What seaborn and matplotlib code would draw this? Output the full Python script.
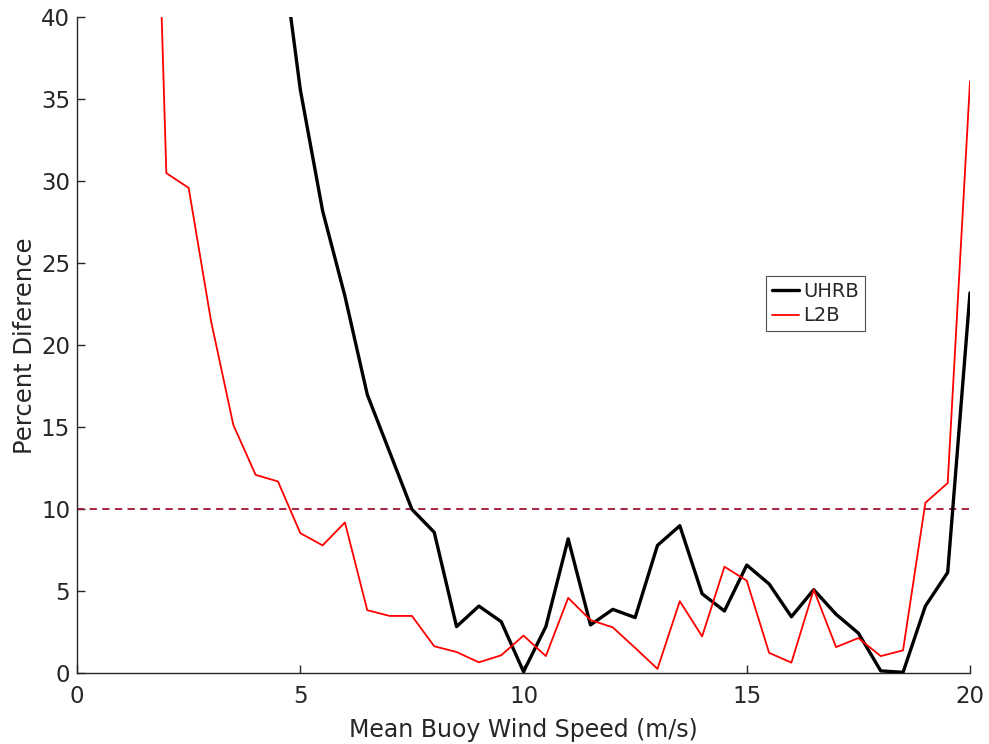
import matplotlib
matplotlib.use("Agg")
import matplotlib.pyplot as plt
import seaborn as sns
import pandas as pd
import numpy as np
from matplotlib.lines import Line2D

# Data
wind_speed = [1.5, 2.0, 2.5, 3.0, 3.5, 4.0, 4.5, 5.0, 5.5, 6.0, 6.5, 7.0, 7.5, 8.0, 8.5,
              9.0, 9.5, 10.0, 10.5, 11.0, 11.5, 12.0, 12.5, 13.0, 13.5, 14.0, 14.5,
              15.0, 15.5, 16.0, 16.5, 17.0, 17.5, 18.0, 18.5, 19.0, 19.5, 20.0]
uhrb = [np.nan, np.nan, np.nan, np.nan, np.nan, np.nan, 46.0, 35.6, 28.2, 23.0, 17.0, 13.5, 10.0, 8.6, 2.85,
        4.1, 3.15, 0.1, 2.85, 8.2, 2.95, 3.9, 3.4, 7.8, 9.0, 4.85, 3.8,
        6.6, 5.45, 3.45, 5.1, 3.6, 2.45, 0.15, 0.06, 4.1, 6.15, 23.2]
l2b = [76.0, 30.5, 29.6, 21.5, 15.15, 12.1, 11.7, 8.55, 7.8, 9.2, 3.85, 3.5, 3.5, 1.65, 1.3,
       0.67, 1.1, 2.3, 1.05, 4.6, 3.25, 2.8, 1.55, 0.27, 4.4, 2.25, 6.5,
       5.65, 1.25, 0.65, 5.1, 1.6, 2.15, 1.05, 1.4, 10.4, 11.6, 36.1]
series_names = ["UHRB", "L2B"]
threshold = 10
x_ticks = [0, 5, 10, 15, 20]
y_ticks = [0, 5, 10, 15, 20, 25, 30, 35, 40]

df = pd.DataFrame({"x": wind_speed * 2,
                   "y": uhrb + l2b,
                   "series": [series_names[0]] * len(wind_speed) + [series_names[1]] * len(wind_speed)})

sns.set_theme(style="ticks")
plt.rcParams['font.family'] = ['DejaVu Sans']
txt = "#262626"

fig = plt.figure(figsize=(9.89, 7.44), dpi=100)
ax = fig.add_axes([0.0779, 0.0950, 0.9029, 0.8817])

ax.axhline(threshold, color="#A2142F", linestyle=(0, (4, 3)), linewidth=1.3, zorder=1)
sns.lineplot(data=df, x="x", y="y", hue="series", size="series",
             palette={"UHRB": "black", "L2B": "#FF0000"},
             sizes={"UHRB": 2.4, "L2B": 1.3},
             ax=ax, legend=False, zorder=3)

ax.set_xlim(0, 20)
ax.set_ylim(0, 40)
ax.set_xticks(x_ticks)
ax.set_yticks(y_ticks)
ax.set_xlabel("Mean Buoy Wind Speed (m/s)", fontsize=17, color=txt, labelpad=7)
ax.set_ylabel("Percent Diference", fontsize=17.5, color=txt, labelpad=2.5)
ax.tick_params(direction="in", length=6, width=1.0, colors=txt, labelsize=16.5)
ax.tick_params(axis="x", pad=8.5)
ax.tick_params(axis="y", pad=5)
for s in ["top", "right"]:
    ax.spines[s].set_visible(False)
for s in ["left", "bottom"]:
    ax.spines[s].set_color(txt)
    ax.spines[s].set_linewidth(1.0)

handles = [Line2D([], [], color="black", lw=2.4), Line2D([], [], color="#FF0000", lw=1.3)]
leg = ax.legend(handles, series_names, loc="upper left", bbox_to_anchor=(0.7716, 0.606),
                borderaxespad=0, fontsize=14, frameon=True, fancybox=False,
                handlelength=1.4, handletextpad=0.2, labelspacing=0.3, borderpad=0.3)
leg.get_frame().set_edgecolor("#262626")
leg.get_frame().set_linewidth(0.8)

fig.savefig("out.png", dpi=100)
